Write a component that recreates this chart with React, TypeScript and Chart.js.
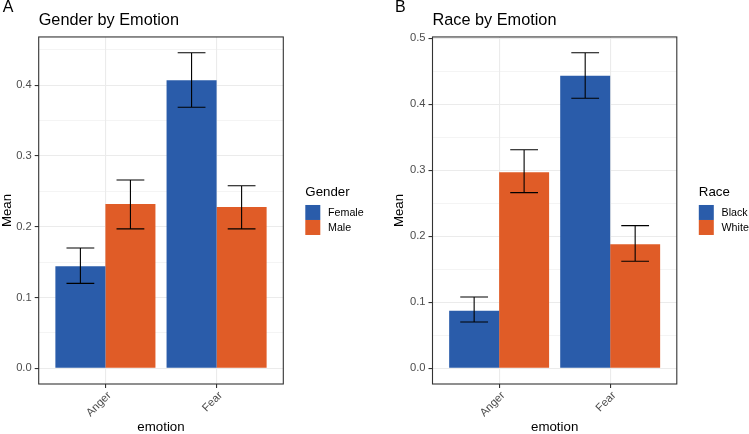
import React, { useEffect, useRef } from "react";
import { Chart, registerables } from "chart.js";

Chart.register(...registerables);

// ---------- data ----------
const emotions = ["Anger", "Fear"];

const genderGroups = ["Female", "Male"];
const femaleMean = [0.144, 0.407];
const femaleLo = [0.12, 0.369];
const femaleHi = [0.17, 0.446];
const maleMean = [0.232, 0.228];
const maleLo = [0.197, 0.197];
const maleHi = [0.266, 0.258];

const raceGroups = ["Black", "White"];
const blackMean = [0.087, 0.443];
const blackLo = [0.07, 0.409];
const blackHi = [0.108, 0.478];
const whiteMean = [0.297, 0.188];
const whiteLo = [0.266, 0.162];
const whiteHi = [0.331, 0.216];

const yMajorA = [0, 0.1, 0.2, 0.3, 0.4];
const yMinorA = [0.05, 0.15, 0.25, 0.35, 0.45];
const yMajorB = [0, 0.1, 0.2, 0.3, 0.4, 0.5];
const yMinorB = [0.05, 0.15, 0.25, 0.35, 0.45];

// ---------- styles ----------
const FONT = '"Liberation Sans", Arial, Helvetica, sans-serif';
const COLORS = ["#2A5CAA", "#E05C27"];
const ERR_WIDTH = 0.25;

type Panel = {
  tag: string;
  title: string;
  legendTitle: string;
  groups: string[];
  means: number[][];
  lo: number[][];
  hi: number[][];
  yMajor: number[];
  yMinor: number[];
  padLeft: number;
  axisWidth: number;
  padRight: number;
  tagX: number;
};

const errorBarPlugin = {
  id: "errbars",
  afterDatasetsDraw(chart: any) {
    const { ctx } = chart;
    const x = chart.scales.x;
    const y = chart.scales.y;
    const half = Math.abs(x.getPixelForValue(ERR_WIDTH / 2) - x.getPixelForValue(0));
    ctx.save();
    ctx.strokeStyle = "#000";
    ctx.lineWidth = 1.1;
    chart.data.datasets.forEach((ds: any, di: number) => {
      const meta = chart.getDatasetMeta(di);
      meta.data.forEach((bar: any, i: number) => {
        const cx = bar.x;
        const yl = y.getPixelForValue(ds.errLo[i]);
        const yh = y.getPixelForValue(ds.errHi[i]);
        ctx.beginPath();
        ctx.moveTo(cx, yh);
        ctx.lineTo(cx, yl);
        ctx.moveTo(cx - half, yh);
        ctx.lineTo(cx + half, yh);
        ctx.moveTo(cx - half, yl);
        ctx.lineTo(cx + half, yl);
        ctx.stroke();
      });
    });
    ctx.restore();
  },
};

function makePanelPlugin(p: Panel) {
  return {
    id: "panel" + p.tag,
    afterDraw(chart: any) {
      const { ctx, chartArea } = chart;
      const { left, right, top, bottom } = chartArea;
      ctx.save();
      // panel border
      ctx.strokeStyle = "#333333";
      ctx.lineWidth = 1.1;
      ctx.strokeRect(left, top, right - left, bottom - top);
      // tag
      ctx.fillStyle = "#000";
      ctx.font = `16px ${FONT}`;
      ctx.textBaseline = "alphabetic";
      ctx.textAlign = "left";
      ctx.fillText(p.tag, p.tagX, 11.5);
      // legend
      const mid = (top + bottom) / 2;
      const lx = right + 22;
      ctx.font = `13.3px ${FONT}`;
      ctx.fillText(p.legendTitle, lx, mid - 14.5);
      p.groups.forEach((g, i) => {
        const sy = mid - 5.5 + i * 15;
        ctx.fillStyle = COLORS[i];
        ctx.fillRect(lx, sy, 15, 15);
        ctx.fillStyle = "#000";
        ctx.font = `10.7px ${FONT}`;
        ctx.textBaseline = "middle";
        ctx.fillText(g, lx + 22.7, sy + 8);
      });
      ctx.restore();
    },
  };
}

function makeChart(canvas: HTMLCanvasElement, p: Panel) {
  const hiMax = Math.max(...p.hi.flat());
  const yMin = -0.05 * hiMax;
  const yMax = 1.05 * hiMax;
  const yTicks = [...p.yMajor, ...p.yMinor].sort((a, b) => a - b);
  const isMajor = (v: number) => p.yMajor.some((m) => Math.abs(m - v) < 1e-9);

  return new Chart(canvas, {
    type: "bar",
    data: {
      datasets: p.groups.map((g, gi) => ({
        label: g,
        data: p.means[gi].map((m, i) => ({ x: i, y: m })),
        backgroundColor: COLORS[gi],
        borderWidth: 0,
        categoryPercentage: 0.9,
        barPercentage: 1,
        errLo: p.lo[gi],
        errHi: p.hi[gi],
      })) as any,
    },
    options: {
      responsive: false,
      animation: false,
      events: [],
      layout: { padding: { left: p.padLeft, right: p.padRight, top: 0, bottom: 0 } },
      plugins: {
        legend: { display: false },
        tooltip: { enabled: false },
        title: {
          display: true,
          text: p.title,
          align: "start",
          fullSize: false,
          color: "#000",
          font: { family: FONT, size: 16.3, weight: "normal", lineHeight: 1.2 },
          padding: { top: 10.7, bottom: 6.7 },
        },
      },
      scales: {
        x: {
          type: "linear",
          min: -0.6,
          max: 1.6,
          offset: false,
          bounds: "data",
          afterBuildTicks: (s: any) => {
            s.ticks = emotions.map((_, i) => ({ value: i }));
          },
          afterFit: (s: any) => {
            s.height = 50;
          },
          grid: {
            offset: false,
            color: "#EBEBEB",
            lineWidth: 1.1,
            tickColor: "#333333",
            tickLength: 4,
          },
          border: { display: false },
          ticks: {
            callback: (v: any) => emotions[v] ?? "",
            minRotation: 45,
            maxRotation: 45,
            autoSkip: false,
            padding: 1,
            labelOffset: 4,
            color: "#4D4D4D",
            font: { family: FONT, size: 11.2 },
          },
          title: {
            display: true,
            text: "emotion",
            color: "#000",
            font: { family: FONT, size: 13.3, lineHeight: 1 },
            padding: { top: 0, bottom: 0 },
          },
        } as any,
        y: {
          type: "linear",
          min: yMin,
          max: yMax,
          bounds: "data",
          afterBuildTicks: (s: any) => {
            s.ticks = yTicks.map((v) => ({ value: v }));
          },
          afterFit: (s: any) => {
            s.width = p.axisWidth;
          },
          grid: {
            color: "#EBEBEB",
            lineWidth: (c: any) => (isMajor(c.tick.value) ? 1.1 : 0.55),
            tickColor: (c: any) => (isMajor(c.tick.value) ? "#333333" : "rgba(0,0,0,0)"),
            tickLength: 4,
          },
          border: { display: false },
          ticks: {
            callback: (v: any) => (isMajor(v) ? Number(v).toFixed(1) : ""),
            autoSkip: false,
            padding: 3,
            color: "#4D4D4D",
            font: { family: FONT, size: 11.2 },
          },
          title: {
            display: true,
            text: "Mean",
            color: "#000",
            font: { family: FONT, size: 13.3, lineHeight: 1 },
            padding: { top: 1, bottom: 0 },
          },
        } as any,
      },
    },
    plugins: [errorBarPlugin, makePanelPlugin(p)],
  });
}

const panelA: Panel = {
  tag: "A",
  title: "Gender by Emotion",
  legendTitle: "Gender",
  groups: genderGroups,
  means: [femaleMean, maleMean],
  lo: [femaleLo, maleLo],
  hi: [femaleHi, maleHi],
  yMajor: yMajorA,
  yMinor: yMinorA,
  padLeft: 0,
  axisWidth: 38.7,
  padRight: 90.7,
  tagX: 2.7,
};

const panelB: Panel = {
  tag: "B",
  title: "Race by Emotion",
  legendTitle: "Race",
  groups: raceGroups,
  means: [blackMean, whiteMean],
  lo: [blackLo, whiteLo],
  hi: [blackHi, whiteHi],
  yMajor: yMajorB,
  yMinor: yMinorB,
  padLeft: 17.75,
  axisWidth: 40.75,
  padRight: 72.2,
  tagX: 21,
};

export default function App() {
  const refA = useRef<HTMLCanvasElement | null>(null);
  const refB = useRef<HTMLCanvasElement | null>(null);

  useEffect(() => {
    const a = makeChart(refA.current!, panelA);
    const b = makeChart(refB.current!, panelB);
    return () => {
      a.destroy();
      b.destroy();
    };
  }, []);

  return (
    <div style={{ position: "absolute", left: 0, top: 0, width: 749, height: 434, background: "#fff" }}>
      <canvas ref={refA} width={374} height={434} style={{ position: "absolute", left: 0, top: 0 }} />
      <canvas ref={refB} width={375} height={434} style={{ position: "absolute", left: 374, top: 0 }} />
    </div>
  );
}
